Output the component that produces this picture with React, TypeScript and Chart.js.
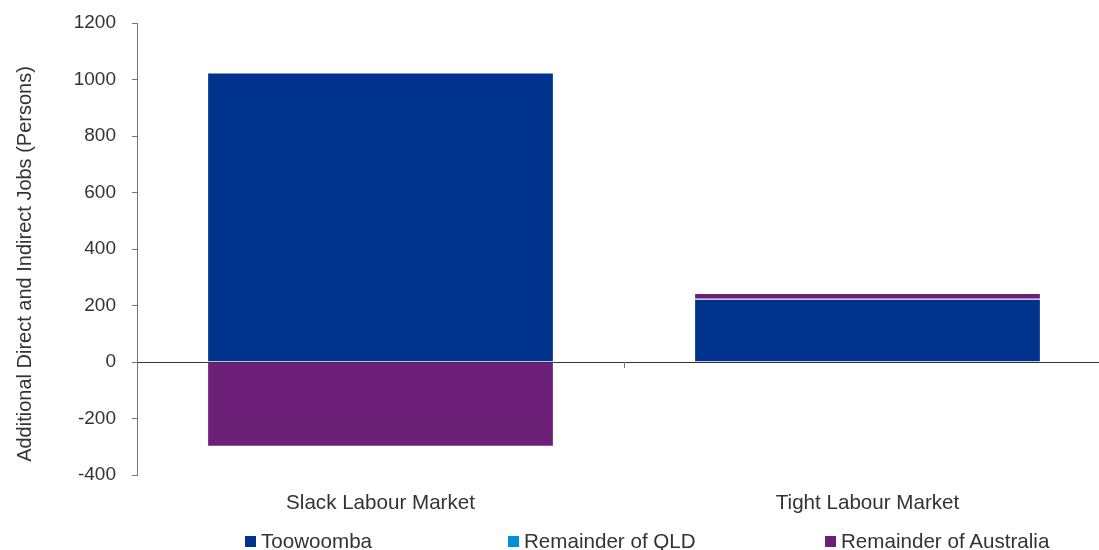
import React, { useEffect, useRef } from "react";
import { Chart, registerables } from "chart.js";

Chart.register(...registerables);

const categories = ["Slack Labour Market", "Tight Labour Market"];
const toowoomba = [1025, 224];
const remainderQLD = [0, 0];
const remainderAustralia = [-300, 20];
const yTicks = [-400, -200, 0, 200, 400, 600, 800, 1000, 1200];
const yTitle = "Additional Direct and Indirect Jobs (Persons)";

const COLORS = {
  toowoomba: "#00338D",
  qld: "#0091DA",
  aus: "#6D2077",
};

const FONT = "'Liberation Sans', Arial, sans-serif";

const extrasPlugin = {
  id: "extras",
  afterDraw(chart: any) {
    const { ctx, scales } = chart;
    const x = scales.x;
    const y = scales.y;
    const y0 = y.getPixelForValue(0);
    const mid = (x.getPixelForValue(0) + x.getPixelForValue(1)) / 2;
    ctx.save();
    ctx.strokeStyle = "#777";
    ctx.lineWidth = 1;
    ctx.beginPath();
    ctx.moveTo(Math.round(mid) + 0.5, y0);
    ctx.lineTo(Math.round(mid) + 0.5, y0 + 6);
    ctx.stroke();
    // y title
    ctx.translate(25, 264);
    ctx.rotate(-Math.PI / 2);
    ctx.fillStyle = "#333";
    ctx.font = `20px ${FONT}`;
    ctx.textAlign = "center";
    ctx.textBaseline = "middle";
    ctx.fillText(yTitle, 0, 0);
    ctx.restore();
  },
};

export default function App() {
  const ref = useRef<HTMLCanvasElement>(null);
  useEffect(() => {
    if (!ref.current) return;
    const chart = new Chart(ref.current, {
      type: "bar",
      data: {
        labels: categories,
        datasets: [
          { label: "Toowoomba", data: toowoomba, backgroundColor: COLORS.toowoomba, borderColor: "#fff", borderWidth: 1 },
          { label: "Remainder of QLD", data: remainderQLD, backgroundColor: COLORS.qld, borderColor: "#fff", borderWidth: 1 },
          { label: "Remainder of Australia", data: remainderAustralia, backgroundColor: COLORS.aus, borderColor: "#fff", borderWidth: 1 },
        ],
      },
      options: {
        animation: false,
        responsive: false,
        maintainAspectRatio: false,
        layout: { padding: { top: 23, left: 0, right: 0, bottom: 0 } },
        datasets: { bar: { barPercentage: 0.712, categoryPercentage: 1 } },
        plugins: {
          legend: { display: false },
          tooltip: { enabled: false },
        },
        scales: {
          x: {
            stacked: true,
            grid: { display: false, drawTicks: false },
            border: { display: false },
            ticks: { color: "#333", font: { family: FONT, size: 20.6 }, padding: 16 },
            afterFit(scale: any) {
              scale.height = 75;
              scale.paddingLeft = 0;
              scale.paddingRight = 0;
            },
          },
          y: {
            stacked: true,
            min: -400,
            max: 1200,
            afterBuildTicks(scale: any) {
              scale.ticks = yTicks.map((v) => ({ value: v }));
            },
            afterFit(scale: any) {
              scale.width = 137;
              scale.paddingTop = 0;
              scale.paddingBottom = 0;
            },
            grid: {
              color: (c: any) => (c.tick && c.tick.value === 0 ? "#333" : "rgba(0,0,0,0)"),
              tickColor: "#777",
              tickLength: 5,
              lineWidth: 1,
            },
            border: { display: true, color: "#777" },
            ticks: {
              color: "#333",
              font: { family: FONT, size: 19 },
              padding: 16,
              callback: (v: any) => String(v),
            },
          },
        },
      },
      plugins: [extrasPlugin],
    });
    return () => chart.destroy();
  }, []);

  const legendItems = [
    { label: "Toowoomba", color: COLORS.toowoomba, left: 245 },
    { label: "Remainder of QLD", color: COLORS.qld, left: 508 },
    { label: "Remainder of Australia", color: COLORS.aus, left: 825 },
  ];

  return (
    <div style={{ position: "absolute", left: 0, top: 0, width: 1099, height: 550, overflow: "hidden", fontFamily: FONT }}>
      <canvas ref={ref} width={1111} height={550} style={{ position: "absolute", left: 0, top: 0, width: 1111, height: 550 }} />
      {legendItems.map((it) => (
        <div
          key={it.label}
          style={{ position: "absolute", left: it.left, top: 530, height: 22, display: "flex", alignItems: "center", color: "#333", fontSize: 20.6, whiteSpace: "nowrap" }}
        >
          <span style={{ display: "inline-block", width: 11, height: 11, background: it.color, marginRight: 5 }} />
          {it.label}
        </div>
      ))}
    </div>
  );
}
